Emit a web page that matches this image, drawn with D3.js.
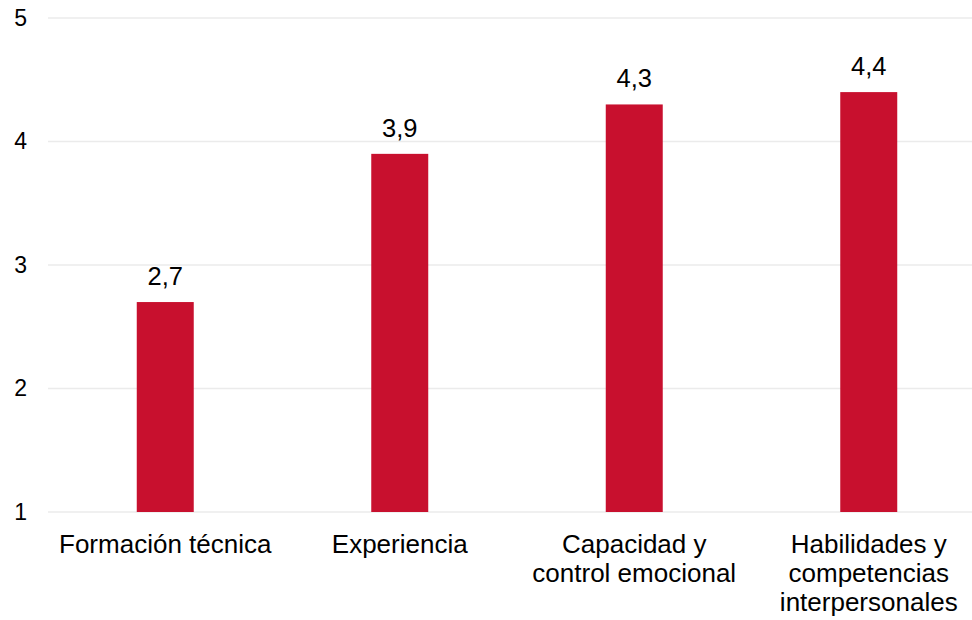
<!DOCTYPE html>
<html>
<head>
<meta charset="utf-8">
<script src="https://cdn.jsdelivr.net/npm/d3@7"></script>
<style>
  body { margin: 0; background: #fff; }
  text { font-family: "Liberation Sans", Arial, sans-serif; fill: #000; }
</style>
</head>
<body>
<script>
// data
let categories = ["Formación técnica", "Experiencia", "Capacidad y control emocional", "Habilidades y competencias interpersonales"];
let labelLines = [["Formación técnica"], ["Experiencia"], ["Capacidad y", "control emocional"], ["Habilidades y", "competencias", "interpersonales"]];
let values = [2.7, 3.9, 4.3, 4.4];
let ticks = [1, 2, 3, 4, 5];

let width = 972, height = 620;

let svg = d3.select("body").append("svg")
    .attr("width", width)
    .attr("height", height);

// scales
let x = d3.scaleBand()
    .domain(categories)
    .range([48, 986])
    .padding(0);

let y = d3.scaleLinear()
    .domain([1, 5])
    .range([512, 18]);

let barW = x.bandwidth() * 0.243;

// gridlines
svg.selectAll(".grid")
    .data(ticks)
    .enter().append("line")
    .attr("x1", 48)
    .attr("x2", width)
    .attr("y1", d => y(d))
    .attr("y2", d => y(d))
    .attr("stroke", "#ebebeb")
    .attr("stroke-width", 1.5);

// y labels
svg.selectAll(".ytick")
    .data(ticks)
    .enter().append("text")
    .attr("x", 27)
    .attr("y", d => y(d) + 7.5)
    .attr("text-anchor", "end")
    .style("font-size", "23px")
    .text(d => d);

// bars
svg.selectAll(".bar")
    .data(values)
    .enter().append("rect")
    .attr("x", (d, i) => x(categories[i]) + x.bandwidth() / 2 - barW / 2)
    .attr("width", barW)
    .attr("y", d => y(d))
    .attr("height", d => y(1) - y(d))
    .attr("fill", "#c8102e");

// value labels
svg.selectAll(".val")
    .data(values)
    .enter().append("text")
    .attr("x", (d, i) => x(categories[i]) + x.bandwidth() / 2)
    .attr("y", d => y(d) - 17)
    .attr("text-anchor", "middle")
    .style("font-size", "25.5px")
    .text(d => d3.format(".1f")(d).replace(".", ","));

// category labels
labelLines.forEach((lines, i) => {
    let t = svg.append("text")
        .attr("text-anchor", "middle")
        .style("font-size", "26px");
    lines.forEach((l, j) => {
        t.append("tspan")
            .attr("x", x(categories[i]) + x.bandwidth() / 2)
            .attr("y", 553 + j * 29)
            .text(l);
    });
});
</script>
</body>
</html>
